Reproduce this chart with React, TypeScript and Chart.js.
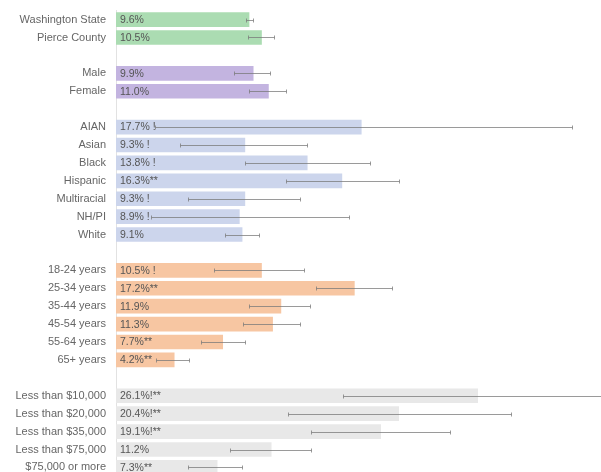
import React, { useEffect, useRef } from "react";
import { Chart, registerables } from "chart.js";

Chart.register(...registerables);

// Rows of the chart; empty strings are spacer rows between groups.
const categories = [
  "Washington State", "Pierce County", "",
  "Male", "Female", "",
  "AIAN", "Asian", "Black", "Hispanic", "Multiracial", "NH/PI", "White", "",
  "18-24 years", "25-34 years", "35-44 years", "45-54 years", "55-64 years", "65+ years", "",
  "Less than $10,000", "Less than $20,000", "Less than $35,000", "Less than $75,000", "$75,000 or more",
];

const values: (number | null)[] = [
  9.6, 10.5, null,
  9.9, 11.0, null,
  17.7, 9.3, 13.8, 16.3, 9.3, 8.9, 9.1, null,
  10.5, 17.2, 11.9, 11.3, 7.7, 4.2, null,
  26.1, 20.4, 19.1, 11.2, 7.3,
];

// Footnote flags appended to each value label.
const flags: string[] = [
  "", "", "",
  "", "", "",
  " !", " !", " !", "**", " !", " !", "", "",
  " !", "**", "", "", "**", "**", "",
  "!**", "!**", "!**", "", "**",
];

// 95% confidence interval bounds.
const lower: (number | null)[] = [
  9.4, 9.5, null,
  8.5, 9.6, null,
  2.8, 4.6, 9.3, 12.3, 5.2, 2.5, 7.9, null,
  7.1, 14.4, 9.6, 9.2, 6.1, 2.9, null,
  16.4, 12.4, 14.1, 8.2, 5.2,
];
const upper: (number | null)[] = [
  9.9, 11.4, null,
  11.1, 12.3, null,
  32.9, 13.8, 18.3, 20.4, 13.3, 16.8, 10.3, null,
  13.6, 19.9, 14.0, 13.3, 9.3, 5.3, null,
  36.0, 28.5, 24.1, 14.1, 9.1,
];

const groupColors = ["#abdcb2", "#c3b4e0", "#ccd5ec", "#f7c6a2", "#e8e8e8"];
const groupOf = [
  0, 0, 0,
  1, 1, 1,
  2, 2, 2, 2, 2, 2, 2, 2,
  3, 3, 3, 3, 3, 3, 3,
  4, 4, 4, 4, 4,
];

const FONT = "'Liberation Sans', Arial, sans-serif";

const errorBars = {
  id: "errorBars",
  afterDatasetsDraw(chart: any) {
    const { ctx, scales } = chart;
    const x = scales.x;
    const meta = chart.getDatasetMeta(0);
    ctx.save();
    ctx.strokeStyle = "rgba(120,120,120,0.75)";
    ctx.lineWidth = 1;
    meta.data.forEach((bar: any, i: number) => {
      const lo = lower[i];
      const hi = upper[i];
      if (lo == null || hi == null) return;
      const y = Math.round(bar.y) + 0.5;
      const x1 = Math.round(x.getPixelForValue(lo)) + 0.5;
      const x2 = Math.round(x.getPixelForValue(hi)) + 0.5;
      ctx.beginPath();
      ctx.moveTo(x1, y);
      ctx.lineTo(x2, y);
      ctx.moveTo(x1, y - 2);
      ctx.lineTo(x1, y + 2);
      ctx.moveTo(x2, y - 2);
      ctx.lineTo(x2, y + 2);
      ctx.stroke();
    });
    // value labels inside the bars
    ctx.fillStyle = "#555";
    ctx.font = "10.5px " + FONT;
    ctx.textBaseline = "middle";
    ctx.textAlign = "left";
    meta.data.forEach((bar: any, i: number) => {
      const v = values[i];
      if (v == null) return;
      ctx.fillText(v.toFixed(1) + "%" + flags[i], chart.chartArea.left + 4, bar.y + 0.5);
    });
    ctx.restore();
  },
};

export default function App() {
  const ref = useRef<HTMLCanvasElement>(null);
  useEffect(() => {
    if (!ref.current) return;
    const chart = new Chart(ref.current, {
      type: "bar",
      data: {
        labels: categories,
        datasets: [
          {
            data: values,
            backgroundColor: groupOf.map((g) => groupColors[g]),
            barThickness: 14,
          },
        ],
      },
      options: {
        indexAxis: "y",
        animation: false,
        responsive: false,
        maintainAspectRatio: false,
        layout: { padding: 0 },
        plugins: { legend: { display: false }, tooltip: { enabled: false } },
        scales: {
          x: { display: false, min: 0, max: 35 },
          y: {
            grid: { display: false, drawTicks: false },
            border: { display: true, color: "#e2e2e2" },
            ticks: {
              color: "#666",
              padding: 10,
              autoSkip: false,
              font: { family: FONT, size: 11 },
            },
            afterFit(scale: any) {
              scale.width = 116;
            },
          },
        },
      },
      plugins: [errorBars],
    });
    return () => chart.destroy();
  }, []);
  return (
    <div style={{ position: "fixed", left: 0, top: -6, width: 601, height: 499, background: "#fff" }}>
      <canvas ref={ref} width={601} height={499} style={{ width: 601, height: 499, display: "block" }} />
    </div>
  );
}
